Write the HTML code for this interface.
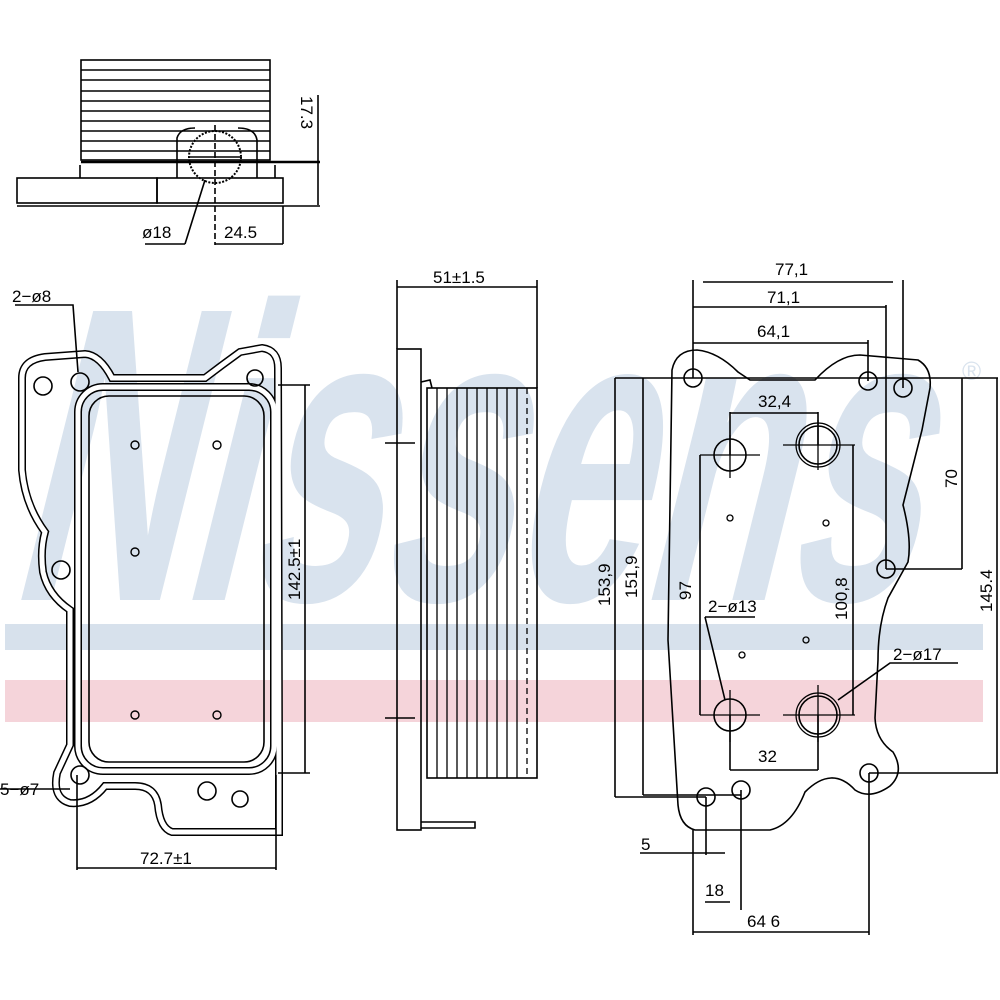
<!DOCTYPE html>
<html><head><meta charset="utf-8"><style>html,body{margin:0;padding:0;background:#fff}svg{display:block}</style></head>
<body>
<svg width="1000" height="1000" viewBox="0 0 1000 1000" xmlns="http://www.w3.org/2000/svg" font-family="Liberation Sans, DejaVu Sans, sans-serif">
<!-- watermark -->
<g transform="translate(150,0) skewX(-14)">
<text x="5" y="600" font-size="420" font-weight="bold" fill="#d9e3ee" textLength="905" lengthAdjust="spacingAndGlyphs">Nissens</text>
</g>
<text x="962" y="380" font-size="26" fill="#d9e3ee">®</text>
<rect x="5" y="624" width="978" height="26" fill="#d7e1ec"/>
<rect x="5" y="680" width="978" height="42" fill="#f5d4da"/>

<g fill="none" stroke="#000" stroke-width="1.6">
<!-- TOP VIEW -->
<rect x="81" y="60" width="189" height="100"/>
<g stroke-width="1.4">
<line x1="81" y1="70" x2="270" y2="70"/><line x1="81" y1="80" x2="270" y2="80"/>
<line x1="81" y1="91" x2="270" y2="91"/><line x1="81" y1="101" x2="270" y2="101"/>
<line x1="81" y1="111" x2="270" y2="111"/><line x1="81" y1="121" x2="270" y2="121"/>
<line x1="81" y1="131" x2="270" y2="131"/><line x1="81" y1="141" x2="270" y2="141"/>
<line x1="81" y1="151" x2="270" y2="151"/>
</g>
<line x1="81" y1="162" x2="320" y2="162" stroke-width="2.5"/>
<path d="M80,165 L80,178 M275,165 L275,178"/>
<path d="M177,178 L177,138 Q180,128 195,128 M238,128 Q255,128 257,140 L257,178"/>
<rect x="17" y="178" width="140" height="25"/>
<rect x="157" y="178" width="126" height="25"/>
<line x1="17" y1="206" x2="283" y2="206"/>
<circle cx="215" cy="157" r="26" stroke-dasharray="2 1.5" stroke-width="2"/>
<line x1="215" y1="125" x2="215" y2="245" stroke-dasharray="6 3"/>
<line x1="190" y1="157" x2="240" y2="157"/>
<line x1="318" y1="95" x2="318" y2="205"/>
<line x1="283" y1="206" x2="320" y2="206"/>
<line x1="205" y1="180" x2="185" y2="244"/>
<line x1="145" y1="244" x2="185" y2="244"/>
<line x1="215" y1="244" x2="283" y2="244"/>
<line x1="283" y1="206" x2="283" y2="244"/>

<!-- LEFT VIEW gasket (double lines) -->
<g stroke-width="8">
<path d="M22,378 Q22,360 45,357 L85,354 Q100,355 112,378 L205,378 Q222,365 240,352 L262,348 Q278,350 278,368 L279,770 L279,832 L172,832 Q160,828 158,805 Q155,786 135,786 L105,786 Q90,805 70,803 Q52,798 57,773 L70,745 L70,610 Q48,595 43,572 Q40,550 45,532 Q25,505 22,470 Z"/>
<rect x="78" y="387" width="196" height="384" rx="25"/>
</g>
<g stroke="#fff" stroke-width="5">
<path d="M22,378 Q22,360 45,357 L85,354 Q100,355 112,378 L205,378 Q222,365 240,352 L262,348 Q278,350 278,368 L279,770 L279,832 L172,832 Q160,828 158,805 Q155,786 135,786 L105,786 Q90,805 70,803 Q52,798 57,773 L70,745 L70,610 Q48,595 43,572 Q40,550 45,532 Q25,505 22,470 Z"/>
<rect x="78" y="387" width="196" height="384" rx="25"/>
</g>
<rect x="89" y="396" width="175" height="366" rx="20"/>
<circle cx="43" cy="386" r="9"/><circle cx="80" cy="382" r="9"/><circle cx="255" cy="378" r="8"/>
<circle cx="61" cy="570" r="9"/><circle cx="80" cy="775" r="9"/><circle cx="207" cy="791" r="9"/><circle cx="240" cy="799" r="8"/>
<g stroke-width="1.4"><circle cx="135" cy="445" r="4"/><circle cx="217" cy="445" r="4"/><circle cx="135" cy="552" r="4"/><circle cx="135" cy="715" r="4"/><circle cx="217" cy="715" r="4"/></g>
<path d="M15,305 L73,305 L78,372"/>
<line x1="278" y1="385" x2="310" y2="385"/><line x1="278" y1="773" x2="310" y2="773"/>
<line x1="305" y1="385" x2="305" y2="773"/>
<line x1="77" y1="775" x2="77" y2="870"/><line x1="276" y1="775" x2="276" y2="870"/>
<line x1="77" y1="868" x2="276" y2="868"/>
<line x1="0" y1="789" x2="70" y2="789"/>

<!-- MIDDLE VIEW -->
<rect x="397" y="349" width="24" height="481"/>
<path d="M421,382 L430,380 L432,388"/>
<rect x="427" y="388" width="110" height="390"/>
<g stroke-width="1.3">
<line x1="437" y1="388" x2="437" y2="778"/><line x1="447" y1="388" x2="447" y2="778"/>
<line x1="457" y1="388" x2="457" y2="778"/><line x1="467" y1="388" x2="467" y2="778"/>
<line x1="477" y1="388" x2="477" y2="778"/><line x1="487" y1="388" x2="487" y2="778"/>
<line x1="497" y1="388" x2="497" y2="778"/><line x1="507" y1="388" x2="507" y2="778"/>
<line x1="517" y1="388" x2="517" y2="778"/><line x1="527" y1="388" x2="527" y2="778" stroke-dasharray="6 4"/>
</g>
<path d="M421,822 L475,822 L475,828 L421,828"/>
<line x1="397" y1="280" x2="397" y2="349"/><line x1="537" y1="280" x2="537" y2="388"/>
<line x1="397" y1="287" x2="537" y2="287"/>
<line x1="385" y1="443" x2="415" y2="443"/><line x1="385" y1="718" x2="415" y2="718"/>

<!-- RIGHT VIEW -->
<path d="M672,370 Q676,350 697,350 Q718,352 738,372 L750,380 L815,380 Q838,355 860,355 L918,360 Q932,368 930,388 L922,430 Q912,470 903,505 Q912,540 908,562 L888,598 Q878,625 878,660 L875,718 Q876,740 893,752 Q905,772 890,786 Q870,800 855,790 Q832,765 805,792 Q792,825 770,830 L695,830 Q680,826 678,805 L668,640 Z"/>
<circle cx="693" cy="378" r="9"/><circle cx="868" cy="381" r="9"/><circle cx="903" cy="388" r="9"/>
<circle cx="886" cy="569" r="9"/><circle cx="869" cy="773" r="9"/><circle cx="706" cy="797" r="9"/><circle cx="741" cy="790" r="9"/>
<circle cx="730" cy="455" r="16"/><circle cx="818" cy="445" r="19"/><circle cx="818" cy="445" r="22" stroke-width="1.2"/>
<circle cx="730" cy="715" r="16"/><circle cx="818" cy="715" r="19"/><circle cx="818" cy="715" r="22" stroke-width="1.2"/>
<g stroke-width="1.3">
<line x1="700" y1="455" x2="760" y2="455"/><line x1="730" y1="435" x2="730" y2="478"/>
<line x1="783" y1="445" x2="855" y2="445"/><line x1="818" y1="420" x2="818" y2="470"/>
<line x1="700" y1="715" x2="760" y2="715"/><line x1="730" y1="690" x2="730" y2="742"/>
<line x1="783" y1="715" x2="855" y2="715"/><line x1="818" y1="685" x2="818" y2="742"/>
<circle cx="730" cy="518" r="3"/><circle cx="826" cy="523" r="3"/><circle cx="742" cy="655" r="3"/><circle cx="806" cy="640" r="3"/>
</g>
<!-- dims -->
<line x1="693" y1="280" x2="693" y2="378"/><line x1="903" y1="280" x2="903" y2="388"/>
<line x1="886" y1="305" x2="886" y2="569"/><line x1="868" y1="340" x2="868" y2="381"/>
<line x1="703" y1="282" x2="893" y2="282"/>
<line x1="693" y1="307" x2="886" y2="307"/>
<line x1="693" y1="343" x2="868" y2="343"/>
<line x1="730" y1="412" x2="730" y2="455"/><line x1="818" y1="412" x2="818" y2="445"/>
<line x1="730" y1="413" x2="818" y2="413"/>
<line x1="615" y1="378" x2="998" y2="378"/>
<line x1="962" y1="378" x2="962" y2="569"/><line x1="886" y1="569" x2="962" y2="569"/>
<line x1="997" y1="378" x2="997" y2="773"/><line x1="869" y1="773" x2="998" y2="773"/>
<line x1="615" y1="378" x2="615" y2="797"/><line x1="643" y1="378" x2="643" y2="795"/>
<line x1="615" y1="797" x2="706" y2="797"/><line x1="643" y1="795" x2="741" y2="795"/>
<line x1="700" y1="455" x2="700" y2="715"/>
<line x1="853" y1="445" x2="853" y2="715"/>
<line x1="730" y1="715" x2="730" y2="770"/><line x1="818" y1="715" x2="818" y2="770"/>
<line x1="730" y1="770" x2="818" y2="770"/>
<path d="M705,617 L755,617 M705,617 L725,700"/>
<path d="M958,663 L890,663 L838,700"/>
<line x1="706" y1="797" x2="706" y2="855"/><line x1="741" y1="790" x2="741" y2="910"/>
<line x1="640" y1="853" x2="725" y2="853"/><line x1="705" y1="902" x2="730" y2="902"/>
<line x1="693" y1="830" x2="693" y2="935"/><line x1="869" y1="773" x2="869" y2="935"/>
<line x1="693" y1="932" x2="869" y2="932"/>
</g>

<g font-size="17" fill="#000">
<text transform="translate(301,96) rotate(90)">17.3</text>
<text x="142" y="238">ø18</text>
<text x="224" y="238">24.5</text>
<text x="12" y="302">2−ø8</text>
<text x="0" y="795">5−ø7</text>
<text x="140" y="864">72.7±1</text>
<text transform="translate(300,600) rotate(-90)">142.5±1</text>
<text x="433" y="283">51±1.5</text>
<text x="775" y="275">77,1</text>
<text x="767" y="303">71,1</text>
<text x="757" y="337">64,1</text>
<text x="758" y="407">32,4</text>
<text transform="translate(957,488) rotate(-90)">70</text>
<text transform="translate(992,612) rotate(-90)">145.4</text>
<text transform="translate(610,606) rotate(-90)">153,9</text>
<text transform="translate(637,598) rotate(-90)">151,9</text>
<text transform="translate(691,600) rotate(-90)">97</text>
<text transform="translate(847,620) rotate(-90)">100,8</text>
<text x="708" y="612">2−ø13</text>
<text x="893" y="660">2−ø17</text>
<text x="758" y="762">32</text>
<text x="641" y="850">5</text>
<text x="705" y="896">18</text>
<text x="747" y="927">64 6</text>
</g>
</svg>
</body></html>
